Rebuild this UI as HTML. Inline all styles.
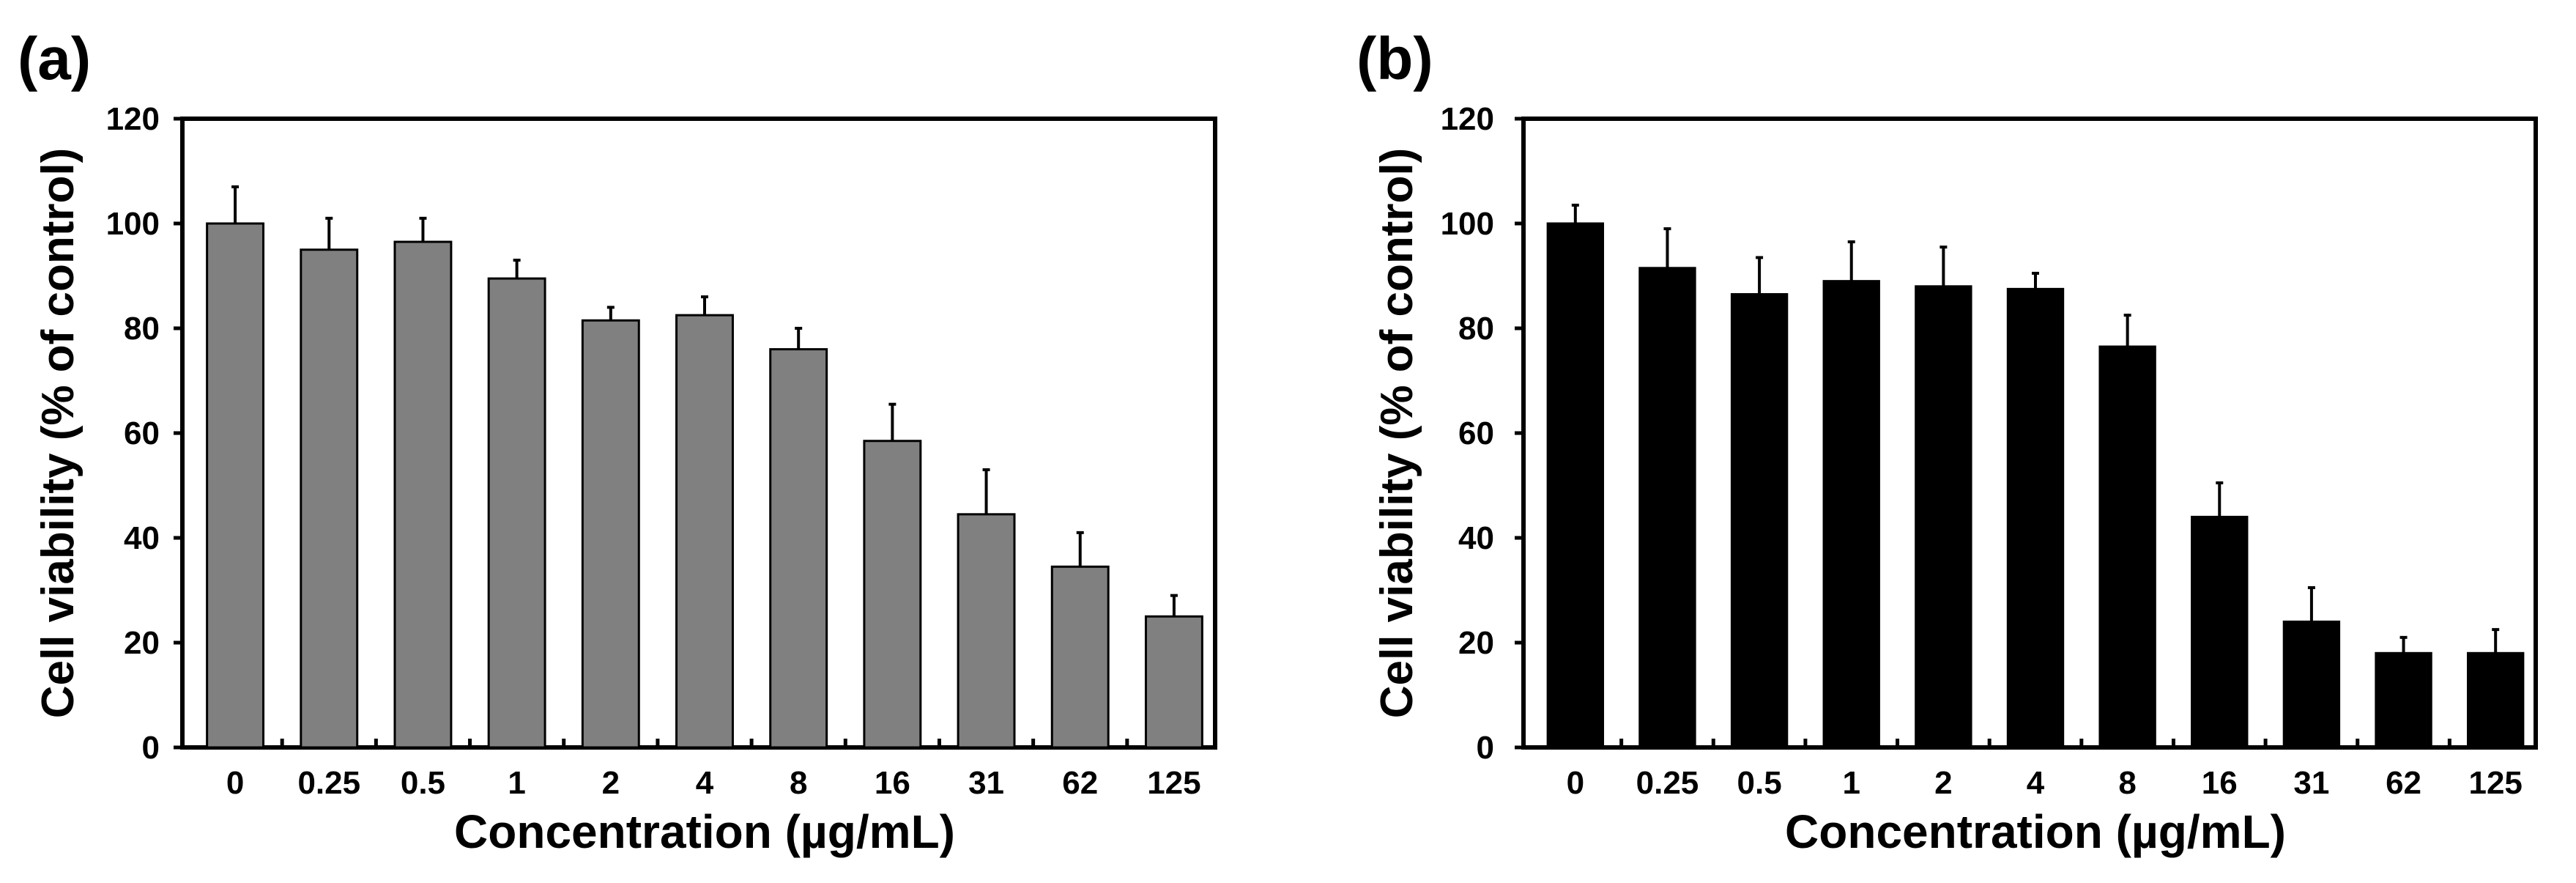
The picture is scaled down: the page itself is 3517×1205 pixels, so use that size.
<!DOCTYPE html>
<html><head><meta charset="utf-8"><style>
html,body{margin:0;padding:0;background:#fff}
svg{display:block}
text{font-family:"Liberation Sans",sans-serif;font-weight:bold;fill:#000}
</style></head><body>
<svg id="fig" width="3517" height="1205" viewBox="0 0 3517 1205" xmlns="http://www.w3.org/2000/svg"></svg>
<script>
const categories = ["0","0.25","0.5","1","2","4","8","16","31","62","125"];
const valuesA = [100,95,96.5,89.5,81.5,82.5,76,58.5,44.5,34.5,25];
const errorsA = [7,6,4.5,3.5,2.5,3.5,4,7,8.5,6.5,4];
const valuesB = [100,91.5,86.5,89,88,87.5,76.5,44,24,18,18];
const errorsB = [3.5,7.5,7,7.5,7.5,3,6,6.5,6.5,3,4.5];
const yTicks = [0,20,40,60,80,100,120];

const NS="http://www.w3.org/2000/svg";
const svg=document.getElementById('fig');
function mk(tag,attrs,parent){const e=document.createElementNS(NS,tag);for(const k in attrs)e.setAttribute(k,attrs[k]);(parent||svg).appendChild(e);return e;}

function panel(id,label,L,R,T,B,vals,errs,fill,labelX,yTitleX,tickRight){
  const g=mk('g',{});
  
  
  const y=v=>B-(v/120)*(B-T);
  const cw=(R-L)/categories.length;
  const x=i=>L+cw*(i+0.5)+8;
  const bw=cw*0.6;
  const box=mk('rect',{x:L,y:T,width:R-L,height:B-T,fill:'none',stroke:'#000','stroke-width':6},g);
  
  
  yTicks.forEach(t=>{
    const tl=mk('line',{x1:L-12,x2:L,y1:y(t),y2:y(t),stroke:'#000','stroke-width':5},g);
    
    
    const tx=mk('text',{x:tickRight,y:y(t)+15,'text-anchor':'end','font-size':44},g);
    
    
    tx.textContent=t;
  });
  for(let i=1;i<categories.length;i++){
    const xx=x(i)-cw/2;
    const ml=mk('line',{x1:xx,x2:xx,y1:B,y2:B-12,stroke:'#000','stroke-width':5},g);
    
    
  }
  categories.forEach((c,i)=>{
    const cx=x(i), top=y(vals[i]), et=y(vals[i]+errs[i]);
    const eb=mk('line',{x1:cx,x2:cx,y1:top,y2:et,stroke:'#000','stroke-width':4},g);
    
    
    const cap=mk('line',{x1:cx-5,x2:cx+5,y1:et,y2:et,stroke:'#000','stroke-width':4},g);
    
    
    const r=mk('rect',{x:cx-bw/2,y:top,width:bw,height:B-top,fill:fill,stroke:'#000','stroke-width':3},g);
    
    
    const lt=mk('text',{x:cx,y:1083,'text-anchor':'middle','font-size':44},g);
    
    
    lt.textContent=c;
  });
  const xt=mk('text',{x:(L+R)/2+8,y:1157,'text-anchor':'middle','font-size':64},g);
  
  
  xt.textContent='Concentration (µg/mL)';
  const yt=mk('text',{x:0,y:0,'text-anchor':'middle','font-size':62,transform:`translate(${yTitleX},${(T+B)/2}) rotate(-90)`},g);
  
  
  yt.textContent='Cell viability (% of control)';
  const pl=mk('text',{x:labelX,y:108,'font-size':82},g);
  
  
  pl.textContent=label;
}
panel('a','(a)',249,1659,162,1020,valuesA,errorsA,'#808080',24,100,218);
panel('b','(b)',2080,3462,162,1020,valuesB,errorsB,'#000000',1852,1928,2040);
</script>
</body></html>
